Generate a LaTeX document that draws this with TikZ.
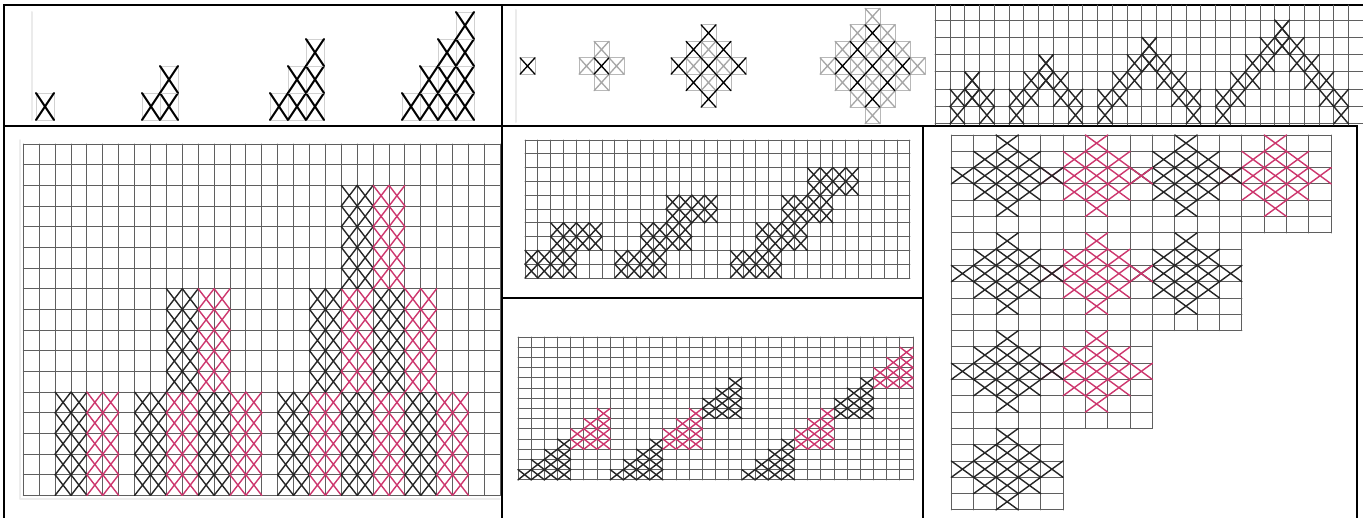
\documentclass[tikz,border=0pt]{standalone}
\newcommand\setgrid[4]{\def\gx{#1}\def\gy{#2}\def\gw{#3}\def\gh{#4}}
\newcommand\xcell[3]{\draw[#3] ({\gx+(#1)*\gw},{\gy+(#2)*\gh}) -- ++(\gw,\gh) ({\gx+(#1+1)*\gw},{\gy+(#2)*\gh}) -- ++({-\gw},\gh);}
\newcommand\cellbox[3]{\draw[#3] ({\gx+(#1)*\gw},{\gy+(#2)*\gh}) rectangle ++(\gw,\gh);}
\newcommand\xb[5]{\foreach \qa in {1,...,#2}{\foreach \qb in {1,...,#4}{\xcell{#1+\qa-1}{#3+\qb-1}{#5}}}}
\newcommand\gridat[4]{%
 \foreach \ga in {0,...,#3} \draw[gridln] ({\gx+(#1+\ga)*\gw},{\gy+(#2)*\gh}) -- ++(0,{(#4)*\gh});
 \foreach \gb in {0,...,#4} \draw[gridln] ({\gx+(#1)*\gw},{\gy+(#2+\gb)*\gh}) -- ++({(#3)*\gw},0);}
\newcommand\sstar[3]{\foreach \sa in {-2,...,2}{\foreach \sb in {-2,...,2}{%
 \pgfmathtruncatemacro\dd{abs(\sa)+abs(\sb)}\ifnum\dd<3 \xcell{#1+\sa}{#2+\sb}{#3}\fi}}}
\begin{document}
\begin{tikzpicture}[x=1pt,y=-1pt,line join=round,line cap=round]
\definecolor{pnk}{RGB}{205,55,110}
\definecolor{gln}{RGB}{95,95,95}
\tikzset{
 border/.style={line width=2.6pt,black,line cap=rect},
 gridln/.style={gln,line width=0.9pt},
 blkX/.style={black!85,line width=1.4pt},
 pnkX/.style={pnk,line width=1.4pt},
 p1X/.style={black,line width=2pt},
 p1cell/.style={black!18,line width=1pt},
 p2blk/.style={black,line width=1.3pt},
 p2gry/.style={black!35,line width=1.3pt},
 p2cell/.style={black!28,line width=0.8pt},
 faint/.style={black!8,line width=2pt},
 imgedge/.style={black!7,line width=1.5pt},
}
\useasboundingbox (0,0) rectangle (1363,517);
\fill[white] (0,0) rectangle (1363,517);
% ---------- table borders
\draw[border] (4,5) -- (1363,5);
\draw[border] (4,5) -- (4,517);
\draw[border] (4,126) -- (1357,126);
\draw[border] (502,5) -- (502,517);
\draw[border] (923,126) -- (923,517);
\draw[border] (1357,126) -- (1357,517);
\draw[border] (502,298) -- (923,298);
% ---------- panel 1
\draw[faint] (32,12) -- (32,120);
\foreach \xo/\n in {36/1,142/2,270/3,402/4}{
 \setgrid{\xo}{93}{18}{27}
 \foreach \i in {1,...,\n}{\foreach \j in {1,...,\i}{
   \cellbox{\i-1}{1-\j}{p1cell}\xcell{\i-1}{1-\j}{p1X}}}}
% ---------- panel 2
\draw[faint] (516,10) -- (516,122);
\foreach \cxo/\rad in {527.5/0,601.5/1,708.5/2,872.5/3}{
 \pgfmathsetmacro\gxx{\cxo-7.5}
 \setgrid{\gxx}{57.75}{15}{16.5}
 \foreach \i in {-3,...,3}{\foreach \j in {-3,...,3}{
   \pgfmathtruncatemacro\dd{abs(\i)+abs(\j)}
   \ifnum\dd>\rad\relax\else\ifodd\dd \cellbox{\i}{\j}{p2cell}\xcell{\i}{\j}{p2gry}\fi\fi}}
 \foreach \i in {-3,...,3}{\foreach \j in {-3,...,3}{
   \pgfmathtruncatemacro\dd{abs(\i)+abs(\j)}
   \ifnum\dd>\rad\relax\else\ifodd\dd\else \cellbox{\i}{\j}{p2cell}\xcell{\i}{\j}{p2blk}\fi\fi}}
}
% ---------- panel 3
\setgrid{935.24}{2.7}{14.76}{17.3}
\foreach \ga in {0,...,29} \draw[gridln] ({\gx+\ga*\gw},5) -- ({\gx+\ga*\gw},125);
\foreach \gb in {1,...,7} \draw[gridln] (935,{\gy+\gb*\gh}) -- (1363,{\gy+\gb*\gh});
\foreach \ac/\ar in {2/4,7/3,14/2,23/1}{
 \pgfmathtruncatemacro\nk{5-\ar}
 \foreach \k in {0,...,\nk}{
   \xcell{\ac-\k}{\ar+\k}{blkX}\xcell{\ac-\k}{\ar+\k+1}{blkX}
   \xcell{\ac+\k}{\ar+\k}{blkX}\xcell{\ac+\k}{\ar+\k+1}{blkX}}}
% ---------- panel 4
\draw[imgedge] (20,140) -- (20,499) -- (500,499);
\setgrid{23.3}{144}{15.9}{20.67}
\gridat{0}{0}{30}{17}
\xb{2}{2}{12}{5}{blkX}\xb{4}{2}{12}{5}{pnkX}
\xb{7}{2}{12}{5}{blkX}\xb{9}{2}{12}{5}{pnkX}\xb{11}{2}{12}{5}{blkX}\xb{13}{2}{12}{5}{pnkX}
\xb{9}{2}{7}{5}{blkX}\xb{11}{2}{7}{5}{pnkX}
\xb{16}{2}{12}{5}{blkX}\xb{18}{2}{12}{5}{pnkX}\xb{20}{2}{12}{5}{blkX}\xb{22}{2}{12}{5}{pnkX}\xb{24}{2}{12}{5}{blkX}\xb{26}{2}{12}{5}{pnkX}
\xb{18}{2}{7}{5}{blkX}\xb{20}{2}{7}{5}{pnkX}\xb{22}{2}{7}{5}{blkX}\xb{24}{2}{7}{5}{pnkX}
\xb{20}{2}{2}{5}{blkX}\xb{22}{2}{2}{5}{pnkX}
% ---------- panel 5
\setgrid{525}{140}{12.83}{13.8}
\gridat{0}{0}{30}{10}
\foreach \c/\r in {0/8,2/6,7/8,9/6,11/4,16/8,18/6,20/4,22/2}{\xb{\c}{4}{\r}{2}{blkX}}
% ---------- panel 6
\setgrid{518}{337}{13.17}{10.2}
\gridat{0}{0}{30}{14}
\foreach \c/\nb in {0/2,7/3,17/4}{
 \foreach \i in {0,...,3}{
   \pgfmathtruncatemacro\hh{\i+1}\pgfmathtruncatemacro\cc{\c+\i}\pgfmathtruncatemacro\rr{13-\i}
   \xb{\cc}{1}{\rr}{\hh}{blkX}}
 \foreach \b in {2,...,\nb}{
   \ifodd\b\tikzset{cur/.style={blkX}}\else\tikzset{cur/.style={pnkX}}\fi
   \foreach \i in {0,1,2}{
     \pgfmathtruncatemacro\cc{\c+4+3*(\b-2)+\i}
     \pgfmathtruncatemacro\hh{\i+2}
     \pgfmathtruncatemacro\rr{13-3*(\b-1)-\i-1}
     \xb{\cc}{1}{\rr}{\hh}{cur}}}}
% ---------- panel 7
\setgrid{951.3}{135}{22.35}{16.3}
\gridat{0}{0}{17}{6}\gridat{0}{6}{13}{6}\gridat{0}{12}{9}{6}\gridat{0}{18}{5}{5}
\foreach \c/\r/\s in {14/2/pnkX,10/2/blkX,6/2/pnkX,2/2/blkX,10/8/blkX,6/8/pnkX,2/8/blkX,6/14/pnkX,2/14/blkX,2/20/blkX}{
 \sstar{\c}{\r}{\s}}
\end{tikzpicture}
\end{document}
